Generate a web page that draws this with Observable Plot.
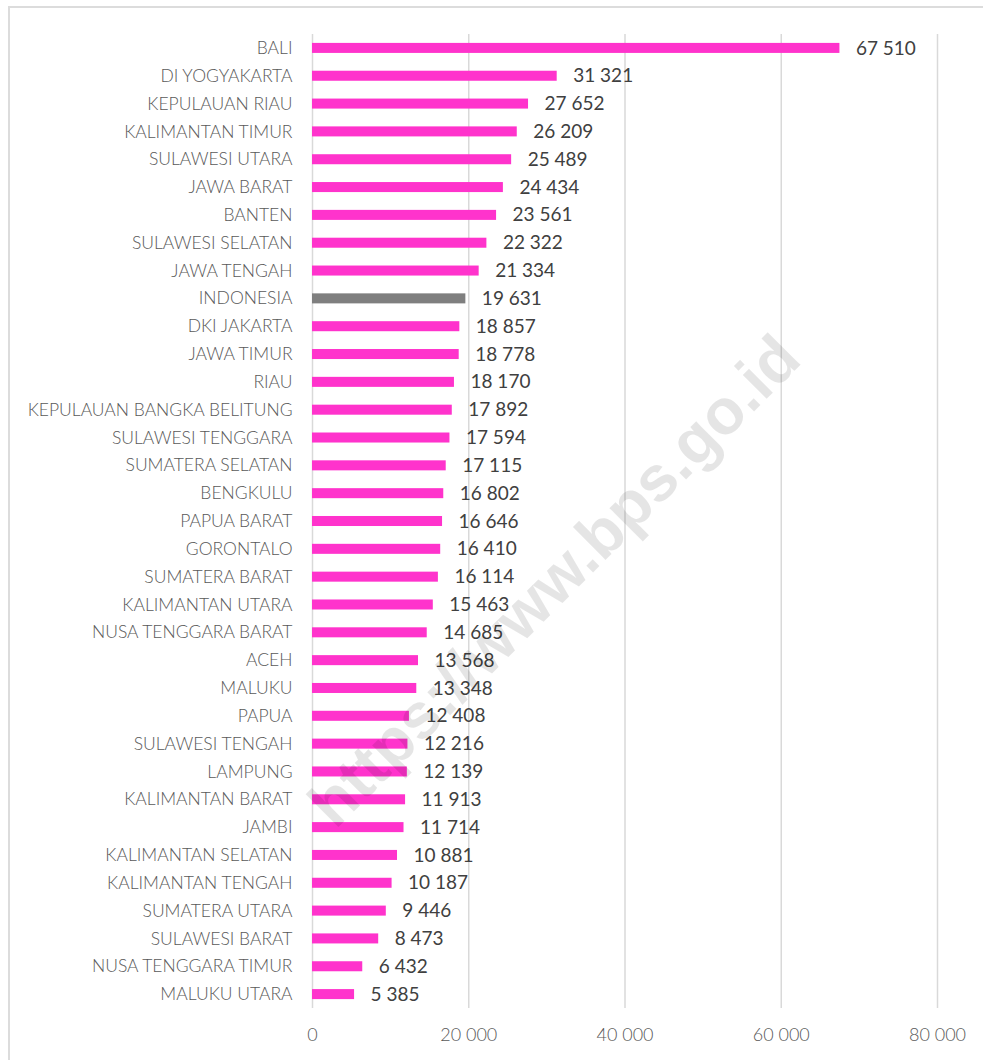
<!DOCTYPE html>
<html>
<head>
<meta charset="utf-8">
<script src="https://cdn.jsdelivr.net/npm/d3@7"></script>
<script src="https://cdn.jsdelivr.net/npm/@observablehq/plot@0.6"></script>
<style>
  html, body { margin: 0; padding: 0; background: #fff; }
  #wrap { position: relative; width: 983px; height: 1060px; overflow: hidden; }
  #border { position: absolute; left: 8px; top: 6px; width: 1000px; height: 1100px;
            border-left: 2px solid #dcdcdc; border-top: 2px solid #dcdcdc; box-sizing: border-box; pointer-events: none; }
  #chart { position: absolute; left: 0; top: 0; }
</style>
</head>
<body>
<div id="wrap"><div id="chart"></div><div id="border"></div></div>
<script>
const regions = [
  "BALI", "DI YOGYAKARTA", "KEPULAUAN RIAU", "KALIMANTAN TIMUR", "SULAWESI UTARA",
  "JAWA BARAT", "BANTEN", "SULAWESI SELATAN", "JAWA TENGAH", "INDONESIA",
  "DKI JAKARTA", "JAWA TIMUR", "RIAU", "KEPULAUAN BANGKA BELITUNG", "SULAWESI TENGGARA",
  "SUMATERA SELATAN", "BENGKULU", "PAPUA BARAT", "GORONTALO", "SUMATERA BARAT",
  "KALIMANTAN UTARA", "NUSA TENGGARA BARAT", "ACEH", "MALUKU", "PAPUA",
  "SULAWESI TENGAH", "LAMPUNG", "KALIMANTAN BARAT", "JAMBI", "KALIMANTAN SELATAN",
  "KALIMANTAN TENGAH", "SUMATERA UTARA", "SULAWESI BARAT", "NUSA TENGGARA TIMUR", "MALUKU UTARA"
];
const values = [
  67510, 31321, 27652, 26209, 25489,
  24434, 23561, 22322, 21334, 19631,
  18857, 18778, 18170, 17892, 17594,
  17115, 16802, 16646, 16410, 16114,
  15463, 14685, 13568, 13348, 12408,
  12216, 12139, 11913, 11714, 10881,
  10187, 9446, 8473, 6432, 5385
];
const xTicks = [0, 20000, 40000, 60000, 80000];
const highlight = "INDONESIA";
const watermark = "https://www.bps.go.id";

const data = regions.map((r, i) => ({region: r, value: values[i]}));
const fmt = d3.formatLocale({decimal: ",", thousands: " ", grouping: [3]}).format(",d");

const chart = Plot.plot({
  width: 983,
  height: 1060,
  marginLeft: 312,
  marginRight: 46,
  marginTop: 34,
  marginBottom: 52,
  style: {fontFamily: "Lato, sans-serif", background: "transparent", overflow: "visible"},
  x: {domain: [0, 80000], label: null},
  y: {domain: regions, paddingInner: 0.64, paddingOuter: 0.32, round: false, label: null},
  marks: [
    Plot.gridX(xTicks.slice(1), {stroke: "#d9d9d9", strokeOpacity: 1, strokeWidth: 1.5}),
    Plot.ruleX([0], {stroke: "#d9d9d9", strokeWidth: 1.5}),
    Plot.barX(data.filter(d => d.region !== highlight), {x: "value", y: "region", fill: "#ff33cc"}),
    Plot.barX(data.filter(d => d.region === highlight), {x: "value", y: "region", fill: "#7f7f7f"}),
    Plot.text(data, {x: "value", y: "region", text: d => fmt(d.value), textAnchor: "start", dx: 16,
      fill: "#404040", fontSize: 19}),
    Plot.axisY({tickSize: 0, tickPadding: 20, fontSize: 17.5, fontWeight: 300, color: "#595959"}),
    Plot.axisX(xTicks, {tickSize: 0, tickPadding: 20, fontSize: 18, fontWeight: 300, color: "#595959", tickFormat: fmt}),
    Plot.text([watermark], {frameAnchor: "middle", rotate: -45, fontSize: 64, fontWeight: "bold",
      fontFamily: "Liberation Sans, Arial, sans-serif", fill: "#000", fillOpacity: 0.1, dx: -70, dy: 60})
  ]
});
document.getElementById("chart").appendChild(chart);
</script>
</body>
</html>
